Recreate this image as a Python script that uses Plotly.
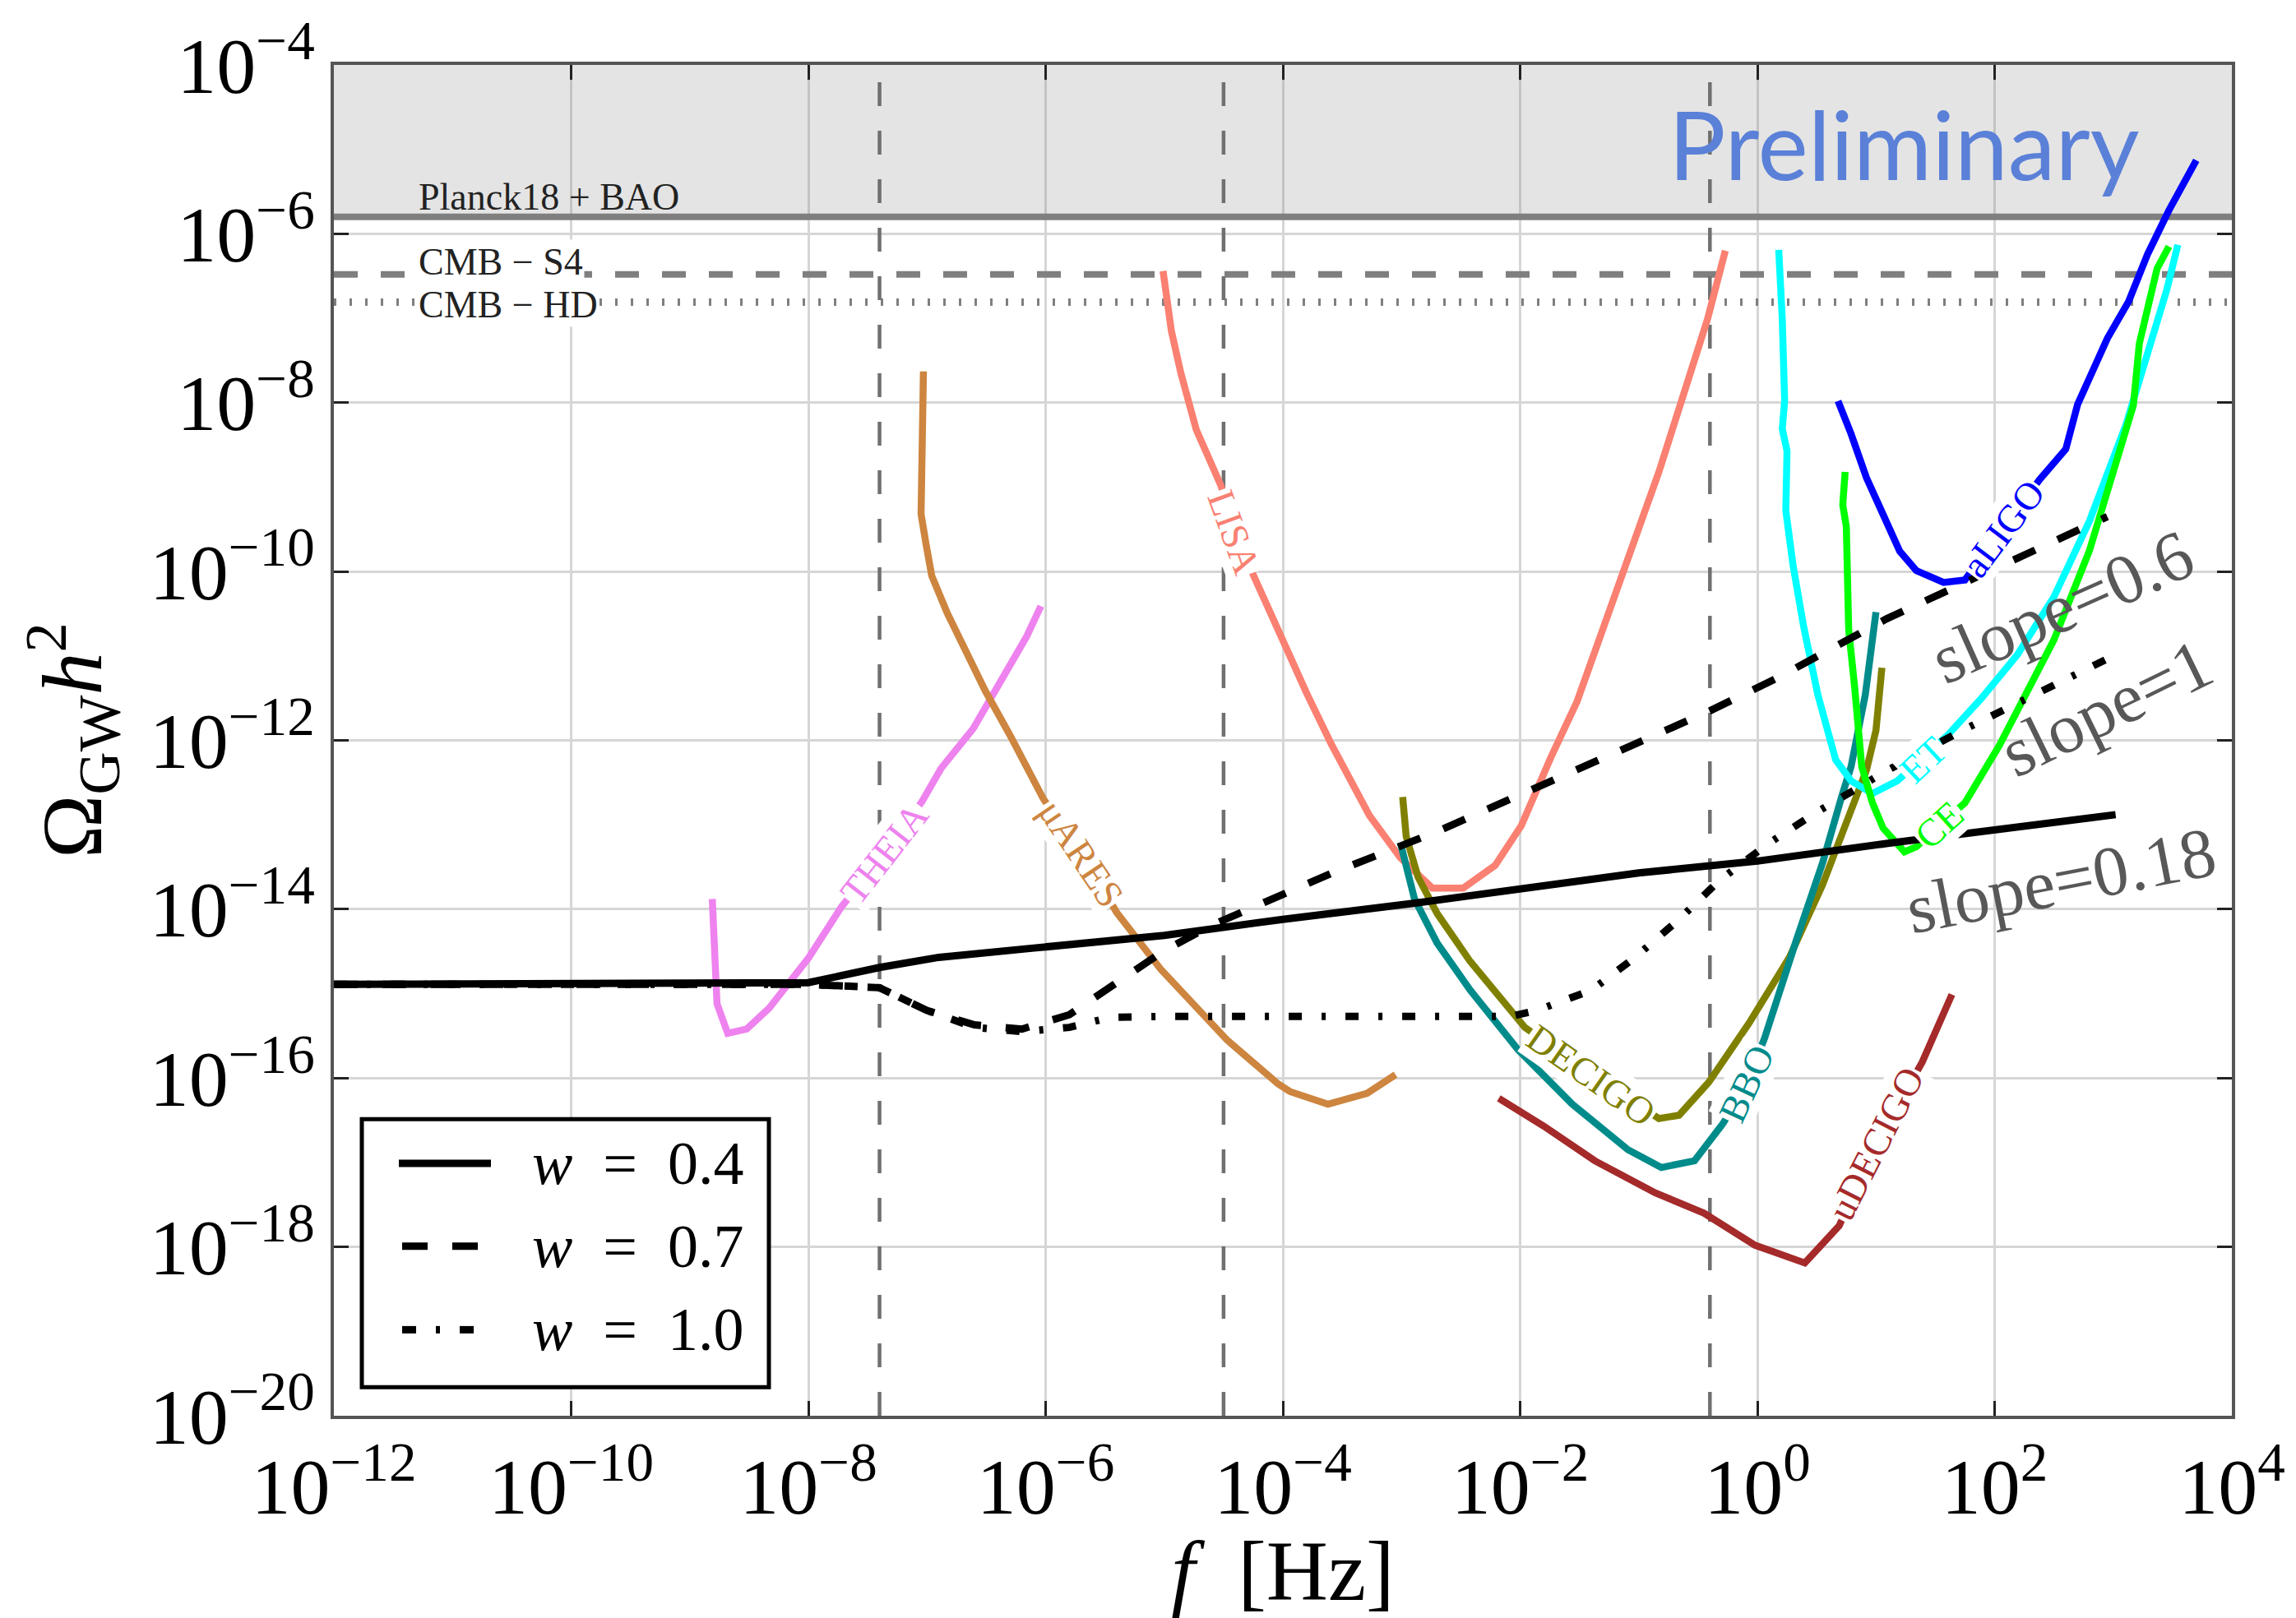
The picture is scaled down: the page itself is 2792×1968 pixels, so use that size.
import numpy as np
import plotly.graph_objects as go

# ---------------- data (log10 f [Hz], log10 Omega_GW h^2) ----------------
W04_LOGF = [-12, -9.0, -8.3, -8.0, -7.4, -6.9, -6.1, -5.0, -4.0, -2.9, -1.0, 0.0, 1.1, 3.02]
W04_LOGO = [-14.89, -14.89, -14.88, -14.87, -14.69, -14.57, -14.46, -14.31, -14.12, -13.93, -13.57, -13.43, -13.22, -12.88]

W07_LOGF = [-12, -8.0, -7.4, -7.0, -6.6, -6.2, -5.8, -5.4, -5.0, -4.6, -4.3, -3.6, -2.7, -0.4, 0.17, 1.09, 2.95]
W07_LOGO = [-14.89, -14.89, -14.93, -15.2, -15.37, -15.42, -15.25, -14.88, -14.49, -14.19, -14.0, -13.58, -13.08, -11.65, -11.26, -10.56, -9.35]

W10_LOGF = [-12, -8.0, -7.4, -7.0, -6.6, -6.2, -5.8, -5.45, -5.0, -3.0, -2.08, -1.86, -1.40, -1.03, -0.66, -0.32, 0.085, 0.49, 1.09, 1.73, 2.59, 3.0]
W10_LOGO = [-14.89, -14.89, -14.93, -15.2, -15.4, -15.45, -15.4, -15.28, -15.27, -15.27, -15.27, -15.20, -14.96, -14.57, -14.12, -13.66, -13.23, -12.86, -12.36, -11.88, -11.29, -11.0]

THEIA_LOGF = [-8.81, -8.77, -8.68, -8.52, -8.33, -8.0, -7.72, -7.36, -7.04, -6.88, -6.61, -6.35, -6.16, -6.04]
THEIA_LOGO = [-13.88, -15.12, -15.47, -15.42, -15.17, -14.58, -13.97, -13.34, -12.72, -12.33, -11.86, -11.22, -10.77, -10.41]

MUARES_LOGF = [-7.03, -7.05, -7.01, -6.96, -6.83, -6.67, -6.51, -6.30, -6.02, -5.70, -5.40, -5.03, -4.47, -4.04, -3.94, -3.62, -3.29, -3.05]
MUARES_LOGO = [-7.63, -9.32, -9.66, -10.05, -10.49, -10.94, -11.41, -11.94, -12.69, -13.34, -14.04, -14.71, -15.55, -16.07, -16.16, -16.31, -16.18, -15.96]

LISA_LOGF = [-5.01, -4.94, -4.86, -4.73, -4.52, -4.41, -4.23, -4.02, -3.80, -3.59, -3.27, -3.01, -2.74, -2.48, -2.21, -1.99, -1.74, -1.52, -1.27, -0.83, -0.42, -0.27]
LISA_LOGO = [-6.44, -7.15, -7.65, -8.32, -8.99, -9.54, -10.10, -10.77, -11.44, -12.05, -12.89, -13.39, -13.75, -13.75, -13.48, -13.01, -12.2, -11.54, -10.54, -8.82, -7.01, -6.20]

DECIGO_LOGF = [-2.99, -2.96, -2.86, -2.70, -2.42, -2.17, -1.96, -1.40, -0.83, -0.66, -0.41, -0.07, 0.27, 0.55, 0.77, 0.92, 1.0, 1.05]
DECIGO_LOGO = [-12.67, -13.14, -13.62, -14.05, -14.62, -15.05, -15.40, -15.95, -16.48, -16.44, -16.05, -15.35, -14.57, -13.71, -12.93, -12.35, -11.88, -11.14]

BBO_LOGF = [-3.01, -2.89, -2.70, -2.42, -2.02, -1.56, -1.09, -0.81, -0.53, -0.29, -0.09, 0.06, 0.33, 0.55, 0.71, 0.79, 0.91, 1.0]
BBO_LOGO = [-13.21, -13.88, -14.40, -14.96, -15.66, -16.31, -16.85, -17.06, -16.98, -16.54, -16.07, -15.53, -14.36, -13.45, -12.67, -12.31, -11.46, -10.48]

UDECIGO_LOGF = [-2.18, -1.80, -1.37, -0.86, -0.45, -0.02, 0.40, 0.69, 1.0, 1.39, 1.64]
UDECIGO_LOGO = [-16.24, -16.57, -16.98, -17.36, -17.60, -17.98, -18.19, -17.75, -16.78, -15.81, -15.01]

ALIGO_LOGF = [0.68, 0.79, 0.92, 1.06, 1.20, 1.34, 1.57, 1.75, 2.07, 2.38, 2.60, 2.70, 2.95, 3.13, 3.29, 3.47, 3.70]
ALIGO_LOGO = [-7.98, -8.37, -8.89, -9.34, -9.76, -9.99, -10.13, -10.10, -9.49, -8.91, -8.55, -8.02, -7.24, -6.80, -6.24, -5.72, -5.13]

ET_LOGF = [0.18, 0.21, 0.23, 0.21, 0.25, 0.24, 0.30, 0.39, 0.51, 0.66, 0.79, 0.97, 1.18, 1.40, 1.61, 1.89, 2.19, 2.50, 2.80, 3.11, 3.32, 3.45, 3.545]
ET_LOGO = [-6.19, -7.01, -7.98, -8.31, -8.57, -9.28, -9.92, -10.65, -11.46, -12.23, -12.48, -12.63, -12.48, -12.2, -11.93, -11.50, -10.99, -10.30, -9.40, -8.25, -7.25, -6.67, -6.13]

CE_LOGF = [0.74, 0.72, 0.75, 0.76, 0.77, 0.82, 0.88, 0.97, 1.06, 1.24, 1.34, 1.54, 1.75, 2.04, 2.50, 2.80, 3.17, 3.22, 3.37, 3.47]
CE_LOGO = [-8.82, -9.21, -9.47, -10.0, -10.69, -11.37, -12.31, -12.74, -13.04, -13.32, -13.26, -13.0, -12.74, -12.06, -10.81, -9.75, -8.03, -7.30, -6.41, -6.15]

# bounds (log10 Omega h^2) and reference frequencies (log10 f)
PLANCK_LOGO = -5.80
CMBS4_LOGO = -6.48
CMBHD_LOGO = -6.81
TOP_LOGO = -4.0
VLINES_LOGF = [-7.4, -4.5, -0.4]

X_TICK_EXP = list(range(-12, 5, 2))
Y_TICK_EXP = list(range(-20, -3, 2))


def pw(a):
    return np.power(10.0, np.array(a, dtype=float))


SERIF = "Liberation Serif"
GRAY = "#7f7f7f"

fig = go.Figure()

# excluded region above Planck18 + BAO
fig.add_trace(go.Scatter(
    x=pw([-12, 4, 4, -12]), y=pw([PLANCK_LOGO, PLANCK_LOGO, TOP_LOGO, TOP_LOGO]),
    fill="toself", fillcolor="rgba(128,128,128,0.21)", line=dict(width=0),
    mode="lines", hoverinfo="skip", showlegend=False))

# horizontal bounds
for val, dash, w in [(PLANCK_LOGO, "solid", 8), (CMBS4_LOGO, "29px,28px", 8), (CMBHD_LOGO, "3px,16px", 9)]:
    fig.add_trace(go.Scatter(x=pw([-12, 4]), y=pw([val, val]), mode="lines",
                             line=dict(color=GRAY, width=w, dash=dash),
                             hoverinfo="skip", showlegend=False))

# vertical reference lines
for v in VLINES_LOGF:
    fig.add_trace(go.Scatter(x=pw([v, v]), y=pw([-20, -4]), mode="lines",
                             line=dict(color="#707070", width=4.5, dash="29px,30px"),
                             hoverinfo="skip", showlegend=False))

detectors = [
    ("THEIA", THEIA_LOGF, THEIA_LOGO, "violet"),
    ("μARES", MUARES_LOGF, MUARES_LOGO, "peru"),
    ("LISA", LISA_LOGF, LISA_LOGO, "salmon"),
    ("DECIGO", DECIGO_LOGF, DECIGO_LOGO, "olive"),
    ("BBO", BBO_LOGF, BBO_LOGO, "darkcyan"),
    ("uDECIGO", UDECIGO_LOGF, UDECIGO_LOGO, "brown"),
    ("aLIGO", ALIGO_LOGF, ALIGO_LOGO, "blue"),
    ("ET", ET_LOGF, ET_LOGO, "cyan"),
    ("CE", CE_LOGF, CE_LOGO, "lime"),
]
for name, lf, lo, col in detectors:
    fig.add_trace(go.Scatter(x=pw(lf), y=pw(lo), mode="lines", name=name,
                             line=dict(color=col, width=8.5), showlegend=False))

w_curves = [
    ("w = 0.4", W04_LOGF, W04_LOGO, "solid"),
    ("w = 0.7", W07_LOGF, W07_LOGO, "29px,30px"),
    ("w = 1.0", W10_LOGF, W10_LOGO, "16px,24px,5px,24px"),
]
for name, lf, lo, dash in w_curves:
    fig.add_trace(go.Scatter(x=pw(lf), y=pw(lo), mode="lines", name=name,
                             line=dict(color="black", width=9, dash=dash), showlegend=False))

annotations = []
# inline detector labels: (text, log f, log Omega, angle, colour)
LABELS = [
    ("THEIA", -7.36, -13.34, -52, "violet"),
    ("μARES", -5.70, -13.34, 56, "peru"),
    ("LISA", -4.41, -9.54, 70, "salmon"),
    ("DECIGO", -1.40, -15.97, 35, "olive"),
    ("BBO", -0.09, -16.07, -65, "darkcyan"),
    ("uDECIGO", 1.0, -16.78, -63, "brown"),
    ("aLIGO", 2.07, -9.49, -53, "blue"),
    ("ET", 1.40, -12.23, -43, "cyan"),
    ("CE", 1.535, -13.0, -42, "lime"),
]
for t, x, y, ang, col in LABELS:
    annotations.append(dict(x=x, y=y, xref="x", yref="y", text=t, showarrow=False,
                            textangle=ang, bgcolor="white", borderpad=1,
                            font=dict(family=SERIF, size=47, color=col)))

# bound labels
annotations += [
    dict(x=-11.30, y=-5.56, xref="x", yref="y", text="Planck18 + BAO", showarrow=False,
         xanchor="left", font=dict(family=SERIF, size=46, color="#222")),
    dict(x=-11.30, y=-6.33, xref="x", yref="y", text="CMB − S4", showarrow=False,
         xanchor="left", bgcolor="white", font=dict(family=SERIF, size=46, color="#222")),
    dict(x=-11.30, y=-6.84, xref="x", yref="y", text="CMB − HD", showarrow=False,
         xanchor="left", bgcolor="white", font=dict(family=SERIF, size=46, color="#222")),
]

# slope labels
SLOPES = [("slope=0.6", 2.57, -10.42, -24), ("slope=1", 2.94, -11.62, -26), ("slope=0.18", 2.56, -13.66, -11)]
for t, x, y, ang in SLOPES:
    annotations.append(dict(x=x, y=y, xref="x", yref="y", text=t, showarrow=False,
                            textangle=ang, font=dict(family=SERIF, size=86, color="#585858")))

annotations.append(dict(x=1.24, y=-4.93, xref="x", yref="y", text="Preliminary", showarrow=False,
                        font=dict(family="Lato", size=116, color="#5a80d8")))


# legend (drawn manually to get long line samples)
def px_x(X):
    return (X - 406) / 2308.0


def px_y(Y):
    return (1722 - Y) / 1649.0


shapes = [dict(type="rect", xref="paper", yref="paper", x0=px_x(440), x1=px_x(935),
               y0=px_y(1687), y1=px_y(1360), line=dict(color="black", width=5),
               fillcolor="white", layer="above")]
LEG_ROWS = [1414, 1515, 1617]
LEG_TEXT = ["<i>w</i>  =  0.4", "<i>w</i>  =  0.7", "<i>w</i>  =  1.0"]
for (name, lf, lo, dash), row, txt in zip(w_curves, LEG_ROWS, LEG_TEXT):
    yy = px_y(row)
    if dash == "solid":
        segs = [(485, 597)]
    elif dash.startswith("29"):
        segs = [(489, 520), (550, 581)]
    else:
        segs = [(489, 506), (530, 535), (559, 576)]
    for a, b in segs:
        shapes.append(dict(type="line", xref="paper", yref="paper", x0=px_x(a), x1=px_x(b),
                           y0=yy, y1=yy, line=dict(color="black", width=9), layer="above"))
    annotations.append(dict(x=px_x(645), y=yy, xref="paper", yref="paper", text=txt,
                            showarrow=False, xanchor="left", yanchor="middle",
                            font=dict(family=SERIF, size=74, color="black")))


def sup(e):
    s = str(e).replace("-", "−")
    return "10<sup>%s</sup>" % s


axis_common = dict(
    type="log", showgrid=True, gridcolor="#d6d6d6", gridwidth=2.5, zeroline=False,
    showline=True, linecolor="#555", linewidth=4, mirror="ticks",
    ticks="inside", ticklen=18, tickwidth=3, tickcolor="#222",
    tickfont=dict(family=SERIF, size=96, color="black"),
)

fig.update_layout(
    width=2792, height=1968, autosize=False,
    margin=dict(l=406, r=78, t=73, b=246),
    paper_bgcolor="white", plot_bgcolor="white",
    showlegend=False,
    xaxis=dict(range=[-12, 4], tickvals=list(pw(X_TICK_EXP)), ticktext=[sup(e) for e in X_TICK_EXP],
               title=dict(text="<i>f</i>  [Hz]", font=dict(family=SERIF, size=104, color="black"), standoff=18),
               **axis_common),
    yaxis=dict(range=[-20, -4], tickvals=list(pw(Y_TICK_EXP)), ticktext=[sup(e) for e in Y_TICK_EXP],
               title=dict(text="Ω<sub>GW</sub><i>h</i><sup>2</sup>", font=dict(family=SERIF, size=104, color="black"), standoff=24),
               **axis_common),
    annotations=annotations,
    shapes=shapes,
)

fig.write_html("out.html")
